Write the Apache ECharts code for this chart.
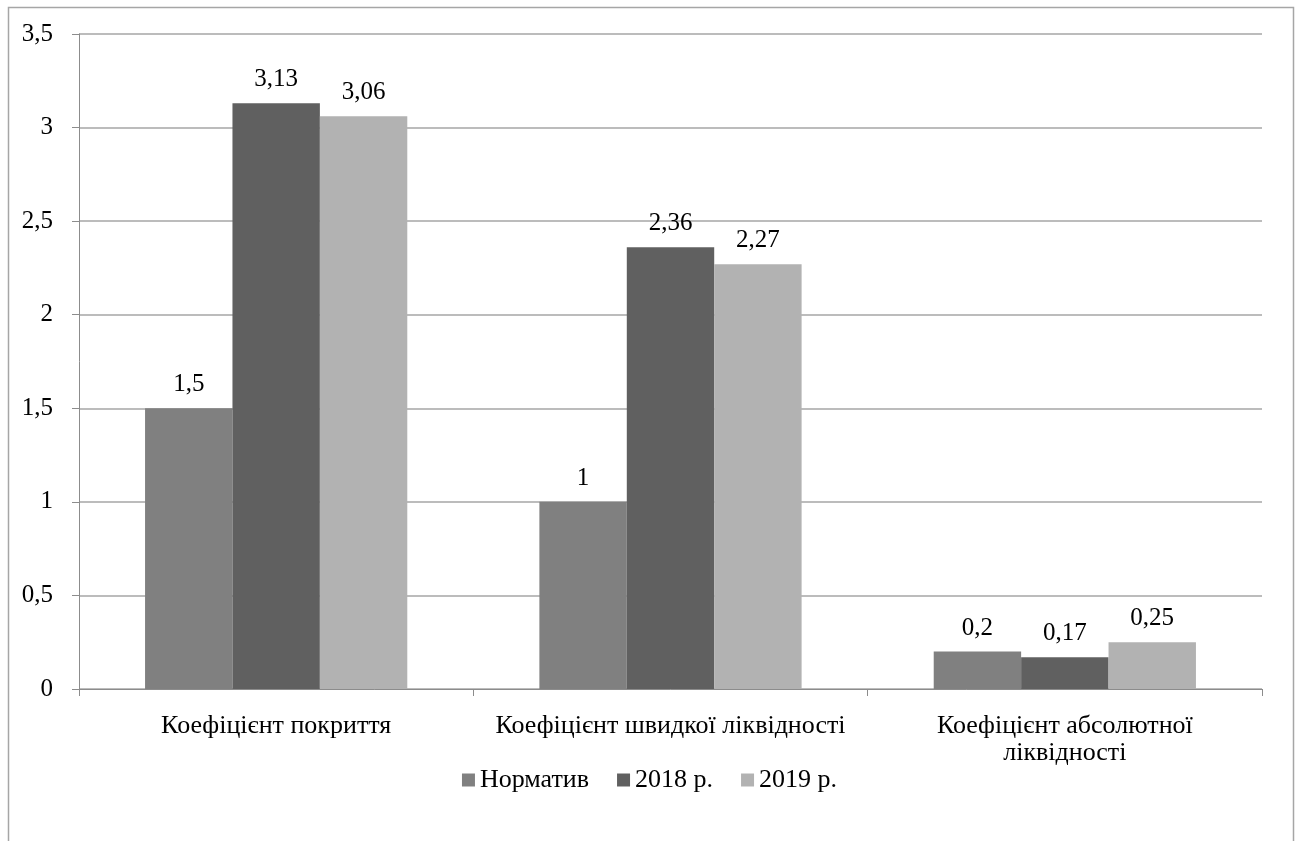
<!DOCTYPE html>
<html>
<head>
<meta charset="utf-8">
<script src="https://cdn.jsdelivr.net/npm/echarts@6/dist/echarts.min.js"></script>
<style>
  html, body { margin: 0; padding: 0; background: #fff; }
  #chart { width: 1299px; height: 841px; }
</style>
</head>
<body>
<div id="chart"></div>
<script>
// Liquidity ratios: standard vs. 2018 and 2019
const categories = ['Коефіцієнт покриття', 'Коефіцієнт швидкої ліквідності', 'Коефіцієнт абсолютної\nліквідності'];
const seriesNames = ['Норматив', '2018 р.', '2019 р.'];
const normValues = [1.5, 1, 0.2];
const values2018 = [3.13, 2.36, 0.17];
const values2019 = [3.06, 2.27, 0.25];
const yTicks = { min: 0, max: 3.5, interval: 0.5 };

const seriesColors = ['#808080', '#606060', '#b2b2b2'];
const fontFamily = '"Liberation Serif", "Times New Roman", serif';
const comma = v => String(v).replace('.', ',');

const chart = echarts.init(document.getElementById('chart'), null, { renderer: 'canvas' });

const makeSeries = (name, data, color) => ({
  name,
  type: 'bar',
  data,
  barGap: '0%',
  barCategoryGap: '33.5%',
  itemStyle: { color },
  label: {
    show: true,
    position: 'top',
    distance: 11,
    color: '#000',
    fontFamily,
    fontSize: 25,
    formatter: p => comma(p.value)
  }
});

chart.setOption({
  animation: false,
  backgroundColor: '#fff',
  textStyle: { fontFamily },
  graphic: [{
    type: 'rect',
    left: 6,
    top: 5,
    shape: { width: 1285, height: 900 },
    style: { fill: 'none', stroke: '#a6a6a6', lineWidth: 1.5 },
    silent: true
  }],
  grid: { left: 79, right: 37, top: 34, bottom: 152, containLabel: false },
  legend: {
    bottom: 43,
    left: 'center',
    itemWidth: 13,
    itemHeight: 13,
    itemGap: 28,
    icon: 'rect',
    textStyle: { fontFamily, fontSize: 26, color: '#000' },
    data: seriesNames
  },
  xAxis: {
    type: 'category',
    data: categories,
    axisLine: { lineStyle: { color: '#8c8c8c', width: 1 } },
    axisTick: { show: true, length: 7, lineStyle: { color: '#8c8c8c' } },
    axisLabel: {
      color: '#000',
      fontFamily,
      fontSize: 26,
      margin: 24,
      lineHeight: 27,
      interval: 0
    }
  },
  yAxis: {
    type: 'value',
    min: yTicks.min,
    max: yTicks.max,
    interval: yTicks.interval,
    axisLine: { show: true, lineStyle: { color: '#8c8c8c', width: 1 } },
    axisTick: { show: true, length: 7, lineStyle: { color: '#8c8c8c' } },
    splitLine: { lineStyle: { color: '#a6a6a6', width: 1.5 } },
    axisLabel: {
      color: '#000',
      fontFamily,
      fontSize: 25,
      margin: 26,
      formatter: v => comma(v)
    }
  },
  series: [
    makeSeries(seriesNames[0], normValues, seriesColors[0]),
    makeSeries(seriesNames[1], values2018, seriesColors[1]),
    makeSeries(seriesNames[2], values2019, seriesColors[2])
  ]
});
</script>
</body>
</html>
